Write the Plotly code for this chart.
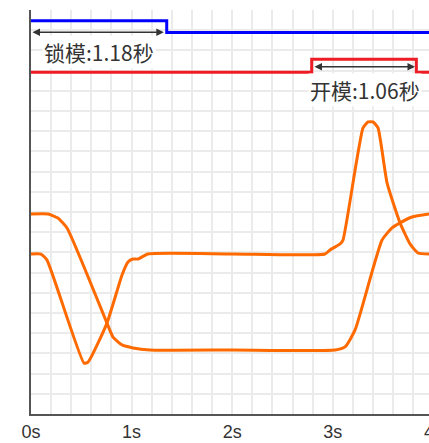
import plotly.graph_objects as go

# ---- data ----
tick_vals = [0, 1, 2, 3, 4]
tick_text = ["0s", "1s", "2s", "3s", "4s"]

lock_t = [0, 1.349, 3.96]
lock_y = [19.47, 18.88, 18.88]

open_t = [0, 2.79, 3.83, 3.96]
open_y = [16.92, 17.56, 16.92, 16.92]

curve_a_t = [0, 0.169, 0.268, 0.358, 0.755, 0.815, 0.905, 1.014, 1.183, 2.0, 3.022,
             3.121, 3.221, 3.489, 3.588, 3.668, 3.787, 3.96]
curve_a_y = [9.90, 9.90, 9.70, 9.21, 4.50, 3.81, 3.42, 3.27, 3.17, 3.17, 3.17,
             3.32, 4.16, 8.61, 9.21, 9.46, 9.75, 9.90]

curve_b_t = [0, 0.099, 0.159, 0.527, 0.567, 0.755, 0.905, 0.964, 1.014, 1.064, 1.163,
             2.0, 2.922, 2.972, 3.072, 3.101, 3.300, 3.350, 3.400, 3.449, 3.539,
             3.668, 3.767, 3.847, 3.96]
curve_b_y = [7.92, 7.92, 7.62, 2.52, 2.57, 4.50, 6.88, 7.52, 7.67, 7.67, 7.92,
             7.92, 7.92, 8.12, 8.42, 8.61, 14.16, 14.46, 14.46, 14.16, 11.44,
             9.46, 8.42, 7.97, 7.92]

lock_label = "锁模:1.18秒"
open_label = "开模:1.06秒"
lock_span = [0, 1.32]
open_span = [2.803, 3.817]

fig = go.Figure()
fig.add_trace(go.Scatter(x=lock_t, y=lock_y, mode="lines", line=dict(color="#0000ff", width=3, shape="hv")))
fig.add_trace(go.Scatter(x=open_t, y=open_y, mode="lines", line=dict(color="#ee1c25", width=3, shape="hv")))
fig.add_trace(go.Scatter(x=curve_a_t, y=curve_a_y, mode="lines",
                         line=dict(color="#ff6a00", width=3, shape="spline", smoothing=0.5)))
fig.add_trace(go.Scatter(x=curve_b_t, y=curve_b_y, mode="lines",
                         line=dict(color="#ff6a00", width=3, shape="spline", smoothing=0.5)))

arrow_col = "#333333"
# double-headed arrows
for span, yv in [(lock_span, 18.90), (open_span, 17.19)]:
    fig.add_annotation(x=span[1], y=yv, ax=span[0], ay=yv, xref="x", yref="y", axref="x", ayref="y",
                       text="", showarrow=True, arrowhead=2, arrowside="end+start",
                       arrowsize=1, arrowwidth=1.5, arrowcolor=arrow_col)

fig.add_annotation(x=0.676, y=17.93, text=lock_label, showarrow=False, xref="x", yref="y",
                   font=dict(family="Noto Sans CJK SC", size=21, color="#333333"),
                   bgcolor="white")
fig.add_annotation(x=3.32, y=16.04, text=open_label, showarrow=False, xref="x", yref="y",
                   font=dict(family="Noto Sans CJK SC", size=21, color="#333333"),
                   bgcolor="white")

# The chart is wider than the 429px window and is cut off at the right edge, as in the reference.
fig.update_layout(
    width=460, height=443,
    margin=dict(l=31, r=0, t=10, b=29),
    paper_bgcolor="white", plot_bgcolor="white",
    showlegend=False,
)
fig.update_xaxes(range=[0, 4.264], tickvals=tick_vals, ticktext=tick_text,
                 showgrid=True, gridcolor="#ebebeb", gridwidth=1.5,
                 minor=dict(dtick=0.2, showgrid=True, gridcolor="#ebebeb", gridwidth=1.5),
                 showline=True, linecolor="#555555", linewidth=2, zeroline=False,
                 ticks="", tickfont=dict(family="Liberation Sans, Arial", size=18, color="#333333"))
fig.update_yaxes(range=[0, 20], dtick=1, showticklabels=False,
                 showgrid=True, gridcolor="#ebebeb", gridwidth=1.5,
                 showline=True, linecolor="#555555", linewidth=2, zeroline=False, ticks="")

fig.write_html("out.html", config={"displayModeBar": False},
               post_script="document.body.style.margin='0';document.body.style.overflow='hidden';")
